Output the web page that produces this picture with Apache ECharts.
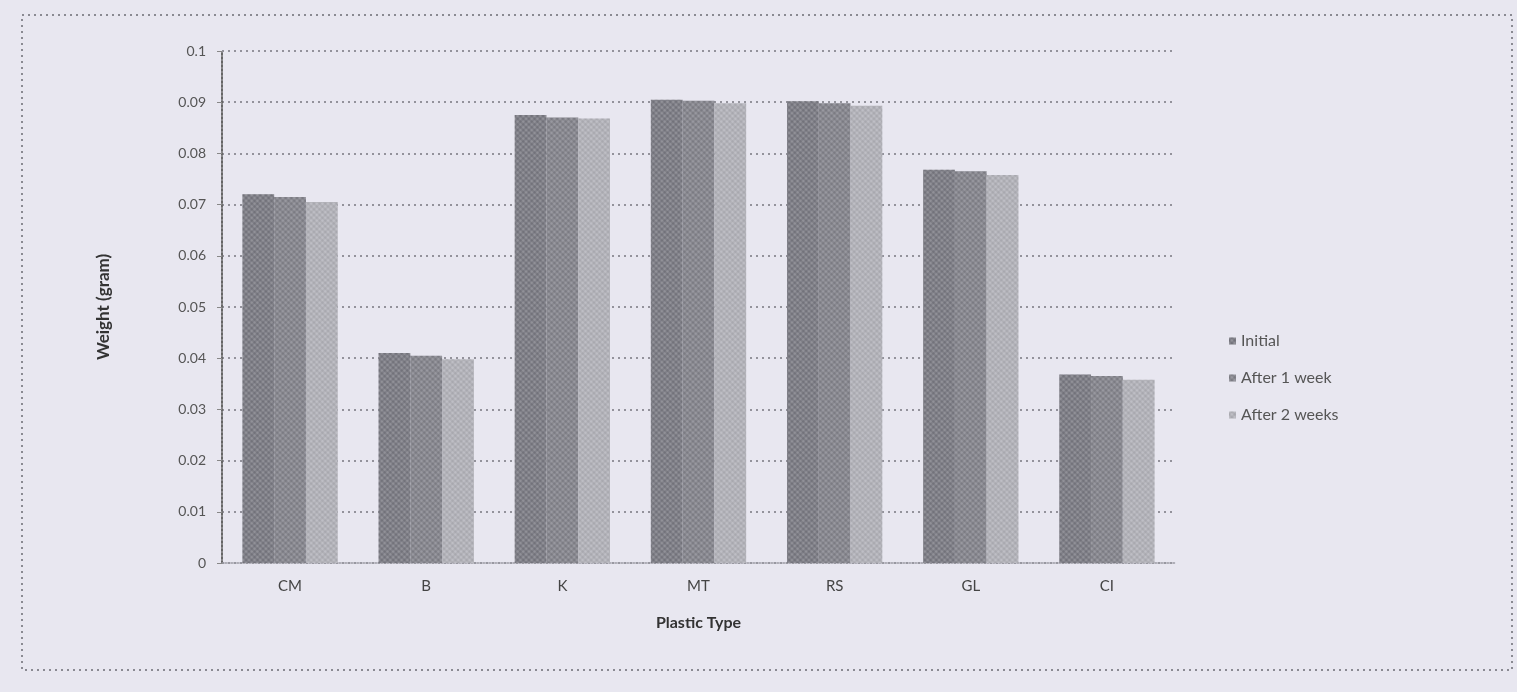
<!DOCTYPE html>
<html>
<head>
<meta charset="utf-8">
<script src="https://cdn.jsdelivr.net/npm/echarts@6/dist/echarts.min.js"></script>
<style>
html,body{margin:0;padding:0;background:#e8e7f0;}
#chart{width:1517px;height:692px;}
</style>
</head>
<body>
<div id="chart"></div>
<script>
const categories = ['CM', 'B', 'K', 'MT', 'RS', 'GL', 'CI'];
const seriesNames = ['Initial', 'After 1 week', 'After 2 weeks'];
const initialValues = [0.072, 0.041, 0.0875, 0.0905, 0.0902, 0.0768, 0.0368];
const week1Values   = [0.0715, 0.0405, 0.087, 0.0903, 0.0898, 0.0765, 0.0365];
const week2Values   = [0.0705, 0.0398, 0.0868, 0.0898, 0.0893, 0.0758, 0.0358];
const yTicks = [0, 0.01, 0.02, 0.03, 0.04, 0.05, 0.06, 0.07, 0.08, 0.09, 0.1];

const chart = echarts.init(document.getElementById('chart'));
const font = 'Lato, "Liberation Sans", sans-serif';
const barColors = ['#96969d', '#9d9da4', '#c2c2c8'];
function decalFor(i){
  return {
    symbol: 'circle',
    symbolSize: 0.9,
    dashArrayX: [[4, 0]],
    dashArrayY: [4, 0],
    color: ['rgba(60,60,70,0.4)', 'rgba(60,60,70,0.35)', 'rgba(90,90,100,0.25)'][i],
    rotation: Math.PI / 4
  };
}
const dataSets = [initialValues, week1Values, week2Values];

chart.setOption({
  backgroundColor: '#e8e7f0',
  animation: false,
  graphic: [{
    type: 'rect',
    shape: { x: 22, y: 15, width: 1490, height: 655 },
    style: { fill: 'none', stroke: '#8a8a92', lineWidth: 2, lineDash: [2, 4] },
    silent: true
  }],
  legend: {
    orient: 'vertical',
    left: 1224,
    top: 328,
    itemGap: 21,
    itemWidth: 7,
    itemHeight: 7,
    icon: 'rect',
    data: seriesNames,
    textStyle: { fontFamily: font, fontSize: 16, color: '#555' }
  },
  grid: { left: 222, right: 342, top: 51, bottom: 129, containLabel: false },
  xAxis: {
    type: 'category',
    data: categories,
    name: 'Plastic Type',
    nameLocation: 'middle',
    nameGap: 52,
    nameTextStyle: { fontFamily: font, fontSize: 16, fontWeight: 'bold', color: '#333' },
    axisLine: { lineStyle: { color: '#9a9aa2', width: 1.5, type: 'dotted' } },
    axisTick: { show: false },
    axisLabel: { fontFamily: font, fontSize: 15, color: '#444', margin: 16 }
  },
  yAxis: {
    type: 'value',
    min: 0,
    max: 0.1,
    interval: 0.01,
    name: 'Weight (gram)',
    nameLocation: 'middle',
    nameGap: 110,
    nameTextStyle: { fontFamily: font, fontSize: 17, fontWeight: 'bold', color: '#333' },
    axisLine: { show: true, lineStyle: { color: '#666', width: 2, type: 'dotted' } },
    axisTick: { show: true, length: 5, lineStyle: { color: '#888' } },
    axisLabel: {
      fontFamily: font, fontSize: 14, color: '#555', margin: 16,
      formatter: v => { const t = yTicks.find(x => Math.abs(x - v) < 1e-9); return t === undefined ? '' : String(+t.toFixed(2)); }
    },
    splitLine: { lineStyle: { color: '#77777f', width: 1.5, type: [2, 4] } }
  },
  series: dataSets.map((d, i) => ({
    name: seriesNames[i],
    type: 'bar',
    data: d,
    barGap: '0%',
    barCategoryGap: '30%',
    itemStyle: { color: barColors[i], decal: decalFor(i) }
  }))
});
</script>
</body>
</html>
